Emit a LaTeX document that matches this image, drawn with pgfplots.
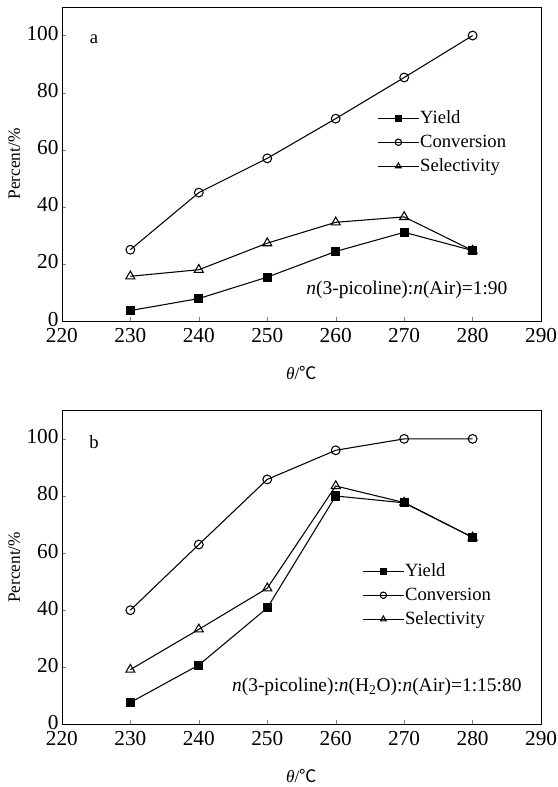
\documentclass[border=0pt]{standalone}
\usepackage{pgfplots}
\pgfplotsset{compat=1.18}
\usepackage{fontspec}
\setmainfont{Liberation Serif}
\newfontfamily\cjk{Noto Sans CJK SC}

\pgfplotsset{
  panel/.style={
    scale only axis, width=360pt, height=236pt,
    xmin=220, xmax=290, ymin=0, ymax=110,
    xtick={220,230,...,290}, ytick={0,20,...,100},
    tick pos=left, tick align=inside, major tick length=3pt,
    ticklabel style={font=\fontsize{16}{16}\selectfont},
    /pgf/number format/assume math mode=true,
    xticklabel style={yshift=-2pt},
    yticklabel style={xshift=1pt, yshift=1.5pt},
    xlabel={\textit{θ}/{\cjk ℃}}, ylabel={Percent/\%},
    label style={font=\fontsize{13}{13}\selectfont},
    xlabel style={yshift=-10.5pt},
    ylabel style={yshift=-2pt},
    legend style={draw=none, fill=none, font=\fontsize{14}{14}\selectfont,
      row sep=5pt, inner sep=0pt, nodes={inner xsep=0.3pt, inner ysep=1pt},
      legend cell align=left},
    legend image code/.code={%
      \draw[mark repeat=2, mark phase=2, #1, mark size=2.4pt] plot coordinates {(0cm,0cm) (0.55cm,0cm) (1.1cm,0cm)};},
    every axis plot/.append style={black, line width=0.8pt},
  },
  yld/.style={mark=square*, mark size=3pt, mark options={solid, fill=black}},
  conv/.style={mark=o, mark size=3.3pt, mark options={solid, fill=white}},
  sel/.style={mark=triangle, mark size=3.9pt, mark options={solid, fill=white}},
}

\begin{document}
\begin{tikzpicture}
% panel a
\begin{axis}[panel, name=top,
  legend style={at={(axis cs:266,74.2)}, anchor=north west}]
\addplot[yld] coordinates {(230,3.7) (240,7.9) (250,15.4) (260,24.4) (270,31.1) (280,24.7)};
\addlegendentry{Yield}
\addplot[conv] coordinates {(230,25) (240,45) (250,57) (260,70.9) (270,85.3) (280,100)};
\addlegendentry{Conversion}
\addplot[sel] coordinates {(230,15.7) (240,18.0) (250,27.3) (260,34.6) (270,36.5) (280,24.7)};
\addlegendentry{Selectivity}
\node[font=\fontsize{14}{14}\selectfont] at (axis cs:224.7,98.6) {a};
\node[font=\fontsize{14.6}{14.6}\selectfont] at (axis cs:270.4,10.8) {\textit{n}(3-picoline):\textit{n}(Air)=1:90};
\end{axis}
% panel b
\begin{axis}[panel, name=bot, at={(0,-303pt)},
  legend style={at={(axis cs:263.8,56.8)}, anchor=north west}]
\addplot[yld] coordinates {(230,7.7) (240,20.8) (250,40.8) (260,80) (270,77.6) (280,65.5)};
\addlegendentry{Yield}
\addplot[conv] coordinates {(230,40) (240,63) (250,85.8) (260,96) (270,100) (280,100)};
\addlegendentry{Conversion}
\addplot[sel] coordinates {(230,19.2) (240,33.3) (250,47.7) (260,83.5) (270,77.7) (280,65.5)};
\addlegendentry{Selectivity}
\node[font=\fontsize{14}{14}\selectfont] at (axis cs:224.7,98.8) {b};
\node[font=\fontsize{14.6}{14.6}\selectfont] at (axis cs:266,13.3) {\textit{n}(3-picoline):\textit{n}(H\textsubscript{2}O):\textit{n}(Air)=1:15:80};
\end{axis}
\pgfresetboundingbox
\path ([xshift=-46.5pt,yshift=5.25pt]top.north west) rectangle ([xshift=12pt,yshift=-47pt]bot.south east);
\end{tikzpicture}
\end{document}
